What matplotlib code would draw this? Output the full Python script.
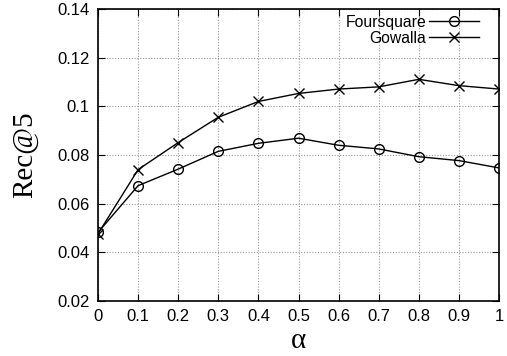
import matplotlib
matplotlib.use("Agg")
from matplotlib import pyplot as plt

alpha = [0, 0.1, 0.2, 0.3, 0.4, 0.5, 0.6, 0.7, 0.8, 0.9, 1.0]
foursquare = [0.0482, 0.0674, 0.0742, 0.0815, 0.0848, 0.0869, 0.0840, 0.0825, 0.0793, 0.0777, 0.0747]
gowalla = [0.0476, 0.0740, 0.0851, 0.0955, 0.1020, 0.1053, 0.1071, 0.1080, 0.1111, 0.1085, 0.1071]
xticks = [0, 0.1, 0.2, 0.3, 0.4, 0.5, 0.6, 0.7, 0.8, 0.9, 1]
xtick_labels = ["0", "0.1", "0.2", "0.3", "0.4", "0.5", "0.6", "0.7", "0.8", "0.9", "1"]
yticks = [0.02, 0.04, 0.06, 0.08, 0.1, 0.12, 0.14]
ytick_labels = ["0.02", "0.04", "0.06", "0.08", "0.1", "0.12", "0.14"]

plt.rcParams["font.family"] = "Liberation Sans"

fig = plt.figure(figsize=(5.07, 3.56), dpi=100)
ax = fig.add_axes([98 / 507, 1 - 301 / 356, 401 / 507, 292 / 356])

ax.plot(alpha, foursquare, color="black", lw=1, marker="o", ms=7,
        mfc="none", mec="black", mew=1, label="Foursquare")
ax.plot(alpha, gowalla, color="black", lw=1, marker="x", ms=7,
        mew=1, label="Gowalla")

ax.set_xlim(0, 1)
ax.set_ylim(0.02, 0.14)
ax.set_xticks(xticks)
ax.set_xticklabels(xtick_labels)
ax.set_yticks(yticks)
ax.set_yticklabels(ytick_labels)
ax.tick_params(direction="in", top=True, right=True, labelsize=12, length=5, pad=6)
ax.grid(True, color="#999999", linestyle=(0, (1, 1.5)), lw=0.8)
for s in ax.spines.values():
    s.set_linewidth(1.2)

ax.set_ylabel("Rec@5", family="Liberation Serif", fontsize=21, labelpad=14)
ax.set_xlabel("α", family="Liberation Serif", fontsize=21, labelpad=3)

leg = ax.legend(loc="upper right", bbox_to_anchor=(0.955, 0.985), markerfirst=False,
                frameon=False, fontsize=11.3, handlelength=3.2, borderaxespad=0,
                borderpad=0.1, labelspacing=0.05, handletextpad=0.2)
for t in leg.get_texts():
    t.set_ha("right")

fig.savefig("out.png", dpi=100)
